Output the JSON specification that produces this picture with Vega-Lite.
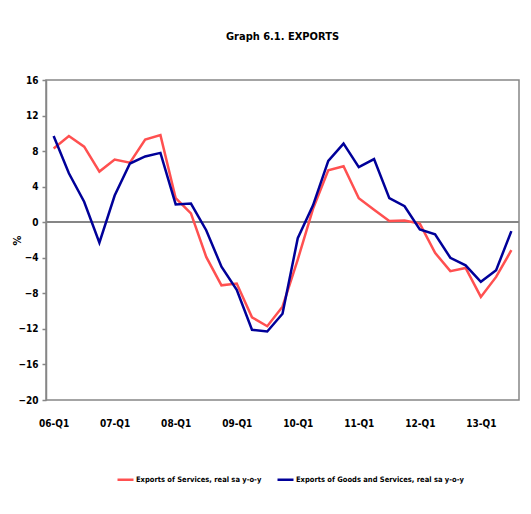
{
  "$schema": "https://vega.github.io/schema/vega-lite/v6.json",
  "autosize": {"type": "none"},
  "width": 473,
  "height": 320,
  "padding": {"left": 46, "top": 80, "right": 12, "bottom": 114},
  "background": "white",
  "config": {
    "view": {"stroke": "#868686", "strokeWidth": 1.5},
    "font": "DejaVu Sans Condensed",
    "axis": {"labelFont": "DejaVu Sans Condensed", "labelFontWeight": "bold", "labelFontSize": 10, "labelColor": "#000", "titleFont": "DejaVu Sans Condensed", "titleColor": "#000", "grid": false, "labelOverlap": false}
  },
  "title": {"text": "Graph 6.1. EXPORTS", "font": "DejaVu Sans Condensed", "fontSize": 11, "fontWeight": "bold", "color": "#000", "anchor": "middle", "offset": 33},
  "data": {"values": [
    {"q": "06-Q1", "s": "Exports of Services, real sa y-o-y", "v": 8.3},
    {"q": "06-Q2", "s": "Exports of Services, real sa y-o-y", "v": 9.7},
    {"q": "06-Q3", "s": "Exports of Services, real sa y-o-y", "v": 8.5},
    {"q": "06-Q4", "s": "Exports of Services, real sa y-o-y", "v": 5.7},
    {"q": "07-Q1", "s": "Exports of Services, real sa y-o-y", "v": 7.05},
    {"q": "07-Q2", "s": "Exports of Services, real sa y-o-y", "v": 6.7},
    {"q": "07-Q3", "s": "Exports of Services, real sa y-o-y", "v": 9.3},
    {"q": "07-Q4", "s": "Exports of Services, real sa y-o-y", "v": 9.8},
    {"q": "08-Q1", "s": "Exports of Services, real sa y-o-y", "v": 2.7},
    {"q": "08-Q2", "s": "Exports of Services, real sa y-o-y", "v": 1.0},
    {"q": "08-Q3", "s": "Exports of Services, real sa y-o-y", "v": -3.9},
    {"q": "08-Q4", "s": "Exports of Services, real sa y-o-y", "v": -7.1},
    {"q": "09-Q1", "s": "Exports of Services, real sa y-o-y", "v": -6.9},
    {"q": "09-Q2", "s": "Exports of Services, real sa y-o-y", "v": -10.7},
    {"q": "09-Q3", "s": "Exports of Services, real sa y-o-y", "v": -11.7},
    {"q": "09-Q4", "s": "Exports of Services, real sa y-o-y", "v": -9.5},
    {"q": "10-Q1", "s": "Exports of Services, real sa y-o-y", "v": -4.2},
    {"q": "10-Q2", "s": "Exports of Services, real sa y-o-y", "v": 1.5},
    {"q": "10-Q3", "s": "Exports of Services, real sa y-o-y", "v": 5.85},
    {"q": "10-Q4", "s": "Exports of Services, real sa y-o-y", "v": 6.3},
    {"q": "11-Q1", "s": "Exports of Services, real sa y-o-y", "v": 2.7},
    {"q": "11-Q2", "s": "Exports of Services, real sa y-o-y", "v": 1.4},
    {"q": "11-Q3", "s": "Exports of Services, real sa y-o-y", "v": 0.15},
    {"q": "11-Q4", "s": "Exports of Services, real sa y-o-y", "v": 0.2},
    {"q": "12-Q1", "s": "Exports of Services, real sa y-o-y", "v": -0.15},
    {"q": "12-Q2", "s": "Exports of Services, real sa y-o-y", "v": -3.45},
    {"q": "12-Q3", "s": "Exports of Services, real sa y-o-y", "v": -5.5},
    {"q": "12-Q4", "s": "Exports of Services, real sa y-o-y", "v": -5.15},
    {"q": "13-Q1", "s": "Exports of Services, real sa y-o-y", "v": -8.4},
    {"q": "13-Q2", "s": "Exports of Services, real sa y-o-y", "v": -6.15},
    {"q": "13-Q3", "s": "Exports of Services, real sa y-o-y", "v": -3.15},
    {"q": "06-Q1", "s": "Exports of Goods and Services, real sa y-o-y", "v": 9.7},
    {"q": "06-Q2", "s": "Exports of Goods and Services, real sa y-o-y", "v": 5.5},
    {"q": "06-Q3", "s": "Exports of Goods and Services, real sa y-o-y", "v": 2.3},
    {"q": "06-Q4", "s": "Exports of Goods and Services, real sa y-o-y", "v": -2.3},
    {"q": "07-Q1", "s": "Exports of Goods and Services, real sa y-o-y", "v": 3.0},
    {"q": "07-Q2", "s": "Exports of Goods and Services, real sa y-o-y", "v": 6.6},
    {"q": "07-Q3", "s": "Exports of Goods and Services, real sa y-o-y", "v": 7.4},
    {"q": "07-Q4", "s": "Exports of Goods and Services, real sa y-o-y", "v": 7.8},
    {"q": "08-Q1", "s": "Exports of Goods and Services, real sa y-o-y", "v": 2.0},
    {"q": "08-Q2", "s": "Exports of Goods and Services, real sa y-o-y", "v": 2.1},
    {"q": "08-Q3", "s": "Exports of Goods and Services, real sa y-o-y", "v": -0.9},
    {"q": "08-Q4", "s": "Exports of Goods and Services, real sa y-o-y", "v": -5.0},
    {"q": "09-Q1", "s": "Exports of Goods and Services, real sa y-o-y", "v": -7.6},
    {"q": "09-Q2", "s": "Exports of Goods and Services, real sa y-o-y", "v": -12.1},
    {"q": "09-Q3", "s": "Exports of Goods and Services, real sa y-o-y", "v": -12.3},
    {"q": "09-Q4", "s": "Exports of Goods and Services, real sa y-o-y", "v": -10.3},
    {"q": "10-Q1", "s": "Exports of Goods and Services, real sa y-o-y", "v": -1.8},
    {"q": "10-Q2", "s": "Exports of Goods and Services, real sa y-o-y", "v": 1.9},
    {"q": "10-Q3", "s": "Exports of Goods and Services, real sa y-o-y", "v": 6.9},
    {"q": "10-Q4", "s": "Exports of Goods and Services, real sa y-o-y", "v": 8.85},
    {"q": "11-Q1", "s": "Exports of Goods and Services, real sa y-o-y", "v": 6.2},
    {"q": "11-Q2", "s": "Exports of Goods and Services, real sa y-o-y", "v": 7.1},
    {"q": "11-Q3", "s": "Exports of Goods and Services, real sa y-o-y", "v": 2.7},
    {"q": "11-Q4", "s": "Exports of Goods and Services, real sa y-o-y", "v": 1.8},
    {"q": "12-Q1", "s": "Exports of Goods and Services, real sa y-o-y", "v": -0.8},
    {"q": "12-Q2", "s": "Exports of Goods and Services, real sa y-o-y", "v": -1.35},
    {"q": "12-Q3", "s": "Exports of Goods and Services, real sa y-o-y", "v": -4.0},
    {"q": "12-Q4", "s": "Exports of Goods and Services, real sa y-o-y", "v": -4.85},
    {"q": "13-Q1", "s": "Exports of Goods and Services, real sa y-o-y", "v": -6.7},
    {"q": "13-Q2", "s": "Exports of Goods and Services, real sa y-o-y", "v": -5.4},
    {"q": "13-Q3", "s": "Exports of Goods and Services, real sa y-o-y", "v": -1.0}
  ]},
  "layer": [
    {
      "mark": {"type": "rule", "color": "#868686", "strokeWidth": 1.5},
      "encoding": {
        "y": {
          "datum": 0, "type": "quantitative",
          "scale": {"domain": [-20, 16], "nice": false, "zero": false},
          "axis": {"title": "%", "titleFontSize": 11, "titleFontWeight": "bold", "titleX": -29, "titleY": 160, "titleBaseline": "middle", "titleAngle": -90, "values": [-20,-16,-12,-8,-4,0,4,8,12,16], "labelOverlap": false, "tickSize": 4, "tickColor": "#868686", "tickWidth": 1.5, "domainColor": "#868686", "domainWidth": 1.5, "labelPadding": 4}
        }
      }
    },
    {
      "mark": {"type": "line", "strokeWidth": 2.5, "strokeJoin": "miter"},
      "encoding": {
        "x": {
          "field": "q", "type": "ordinal", "sort": null,
          "scale": {"type": "point", "padding": 0.5},
          "axis": {"title": null, "values": ["06-Q1","07-Q1","08-Q1","09-Q1","10-Q1","11-Q1","12-Q1","13-Q1"], "ticks": false, "domain": false, "labelAngle": 0, "labelPadding": 18}
        },
        "y": {
          "field": "v", "type": "quantitative",
          "scale": {"domain": [-20, 16], "nice": false, "zero": false},
          "axis": {"title": "%", "titleFontSize": 11, "titleFontWeight": "bold", "titleX": -29, "titleY": 160, "titleBaseline": "middle", "titleAngle": -90, "values": [-20,-16,-12,-8,-4,0,4,8,12,16], "labelOverlap": false, "tickSize": 4, "tickColor": "#868686", "tickWidth": 1.5, "domainColor": "#868686", "domainWidth": 1.5, "labelPadding": 4}
        },
        "color": {
          "field": "s", "type": "nominal",
          "scale": {"domain": ["Exports of Services, real sa y-o-y", "Exports of Goods and Services, real sa y-o-y"], "range": ["#FF5050", "#000099"]},
          "legend": {"title": null, "orient": "none", "legendX": 70, "legendY": 390, "direction": "horizontal", "symbolType": "stroke", "symbolSize": 256, "symbolStrokeWidth": 2.5, "labelFont": "DejaVu Sans Condensed", "labelFontWeight": "bold", "labelFontSize": 7.5, "labelColor": "#000", "labelOffset": 1, "labelLimit": 400, "columnPadding": 10}
        }
      }
    }
  ]
}
